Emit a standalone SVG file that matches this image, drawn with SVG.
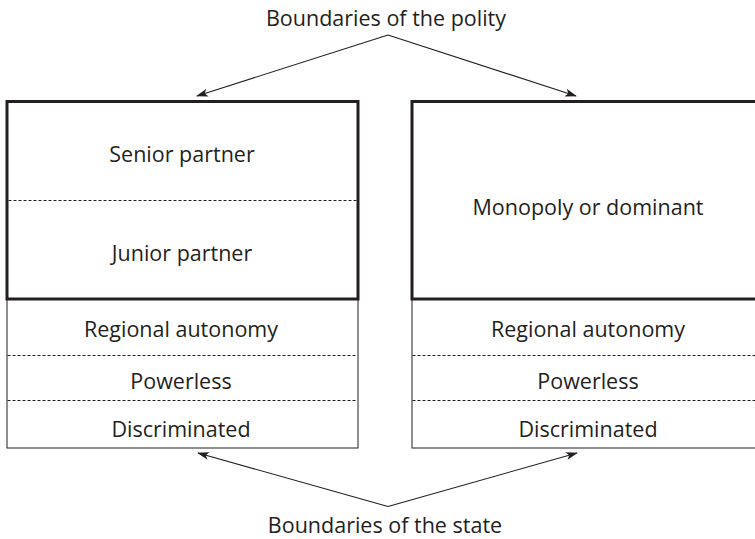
<svg xmlns="http://www.w3.org/2000/svg" width="755" height="539" viewBox="0 0 755 539">
  <style>
    text { font-family: "Open Sans", "Noto Sans", "Liberation Sans", sans-serif; font-size: 21.5px; fill: #231f20; text-anchor: middle; }
    .thick { fill: none; stroke: #231f20; stroke-width: 3; }
    .thin { fill: none; stroke: #231f20; stroke-width: 1; }
    .dash { fill: none; stroke: #231f20; stroke-width: 1; stroke-dasharray: 3 2; }
    .conn { fill: none; stroke: #231f20; stroke-width: 1.1; marker-end: url(#head); }
  </style>
  <defs>
    <marker id="head" viewBox="0 0 12 8" refX="11" refY="4" markerWidth="12" markerHeight="8" markerUnits="userSpaceOnUse" orient="auto">
      <path d="M0,0 L12,4 L0,8 L3,4 Z" fill="#231f20"/>
    </marker>
  </defs>
  <rect width="755" height="539" fill="#ffffff"/>

  <!-- left state: power-sharing arrangement -->
  <g id="left-state">
    <rect class="thin" x="7" y="299" width="351" height="149"/>
    <rect class="thick" x="7" y="101.5" width="351" height="197.5"/>
    <line class="dash" x1="8.5" y1="200.5" x2="356.5" y2="200.5"/>
    <line class="dash" x1="7.5" y1="355.5" x2="357.5" y2="355.5"/>
    <line class="dash" x1="7.5" y1="400.5" x2="357.5" y2="400.5"/>
    <text x="182" y="162">Senior partner</text>
    <text x="182" y="261">Junior partner</text>
    <text x="181" y="337">Regional autonomy</text>
    <text x="181" y="389">Powerless</text>
    <text x="181" y="437">Discriminated</text>
  </g>

  <!-- right state: single dominant group -->
  <g id="right-state">
    <rect class="thin" x="412" y="299" width="360" height="149"/>
    <rect class="thick" x="412" y="101.5" width="360" height="197.5"/>
    <line class="dash" x1="412.5" y1="355.5" x2="755" y2="355.5"/>
    <line class="dash" x1="412.5" y1="400.5" x2="755" y2="400.5"/>
    <text x="588" y="215">Monopoly or dominant</text>
    <text x="588" y="337">Regional autonomy</text>
    <text x="588" y="389">Powerless</text>
    <text x="588" y="437">Discriminated</text>
  </g>

  <g id="label-polity">
    <text x="386" y="26">Boundaries of the polity</text>
  </g>
  <g id="label-state">
    <text x="385" y="533">Boundaries of the state</text>
  </g>

  <g id="connectors">
    <path class="conn" d="M388,35 L197,96"/>
    <path class="conn" d="M388,35 L576,96"/>
    <path class="conn" d="M388,506.5 L198,453"/>
    <path class="conn" d="M388,506.5 L577,453"/>
  </g>
</svg>
